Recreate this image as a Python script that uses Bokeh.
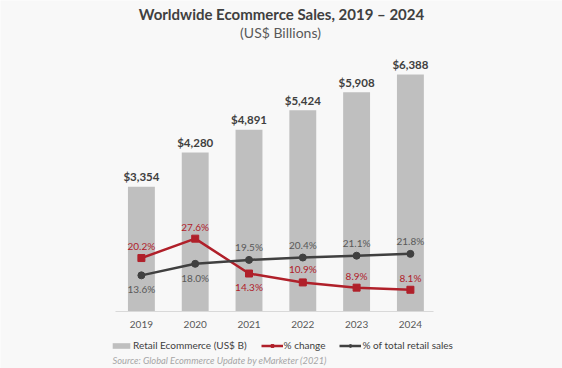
from bokeh.plotting import figure
from bokeh.models import (Range1d, LinearAxis, FixedTicker, Legend, LegendItem,
                          Label, ColumnDataSource)
from bokeh.core.properties import value
from bokeh.embed import file_html
from bokeh.resources import INLINE

# ---- data ----
years = ["2019", "2020", "2021", "2022", "2023", "2024"]
sales = [3354, 4280, 4891, 5424, 5908, 6388]
pct_change = [20.2, 27.6, 14.3, 10.9, 8.9, 8.1]
pct_total = [13.6, 18.0, 19.5, 20.4, 21.1, 21.8]

title_text = "Worldwide Ecommerce Sales, 2019 \u2013 2024"
subtitle_text = "(US$ Billions)"
source_text = "Source: Global Ecommerce Update by eMarketer (2021)"

# ---- styles ----
BG = "#f8f8f8"
BAR = "#bfbfbf"
RED = "#b0202a"
DARK = "#404040"
GRAY_TXT = "#595959"
FONT = "Lato"

idx = list(range(len(years)))

# label placement (px, negative = above point)
red_off = [-12, -12, 13, -13, -12, -12]
blk_off = [14, 14, -13, -13, -13, -13]

src = ColumnDataSource(dict(
    x=idx, sales=sales,
    sales_lbl=["${:,}".format(v) for v in sales],
    chg=pct_change, chg_lbl=["{:.1f}%".format(v) for v in pct_change],
    tot=pct_total, tot_lbl=["{:.1f}%".format(v) for v in pct_total],
    red_off=red_off, blk_off=blk_off,
))

W, H = 562, 368
p = figure(width=W, height=H, output_backend="svg", toolbar_location=None,
           x_range=Range1d(-2.619, 7.827), y_range=Range1d(-1552, 8384),
           x_axis_location=None, y_axis_location=None, min_border=0,
           background_fill_color=BG, border_fill_color=BG,
           outline_line_color=None)
p.title.visible = False
for g in p.grid:
    g.visible = False
p.extra_y_ranges = {"pct": Range1d(-21.95, 118.5)}

bars = p.vbar(x="x", top="sales", width=0.5, source=src,
              fill_color=BAR, line_color=None)
p.text(x="x", y="sales", text="sales_lbl", source=src, y_offset=-10,
       text_align="center", text_baseline="middle",
       text_font=value(FONT), text_font_style="bold",
       text_font_size="11.5px", text_color=DARK)

red_line = p.line(x="x", y="chg", source=src, y_range_name="pct",
                  line_color=RED, line_width=2.5)
red_pts = p.scatter(x="x", y="chg", source=src, y_range_name="pct",
                    marker="square", size=7, fill_color=RED, line_color=RED)
blk_line = p.line(x="x", y="tot", source=src, y_range_name="pct",
                  line_color=DARK, line_width=2.5)
blk_pts = p.scatter(x="x", y="tot", source=src, y_range_name="pct",
                    marker="circle", size=7, fill_color=DARK, line_color=DARK)

p.text(x="x", y="chg", text="chg_lbl", source=src, y_range_name="pct",
       y_offset="red_off", text_align="center", text_baseline="middle",
       text_font=value(FONT), text_font_size="10px", text_color=RED)
p.text(x="x", y="tot", text="tot_lbl", source=src, y_range_name="pct",
       y_offset="blk_off", text_align="center", text_baseline="middle",
       text_font=value(FONT), text_font_size="10px", text_color=GRAY_TXT)

xaxis = LinearAxis(ticker=FixedTicker(ticks=idx),
                   major_label_overrides={i: y for i, y in zip(idx, years)},
                   fixed_location=0, bounds=(-0.48, 5.43),
                   axis_line_color="#d9d9d9", axis_line_width=1,
                   major_tick_line_color=None, minor_tick_line_color=None,
                   major_label_standoff=4,
                   major_label_text_font=FONT,
                   major_label_text_font_size="10px",
                   major_label_text_color=GRAY_TXT)
p.add_layout(xaxis, "below")

legend = Legend(items=[
    LegendItem(label="Retail Ecommerce (US$ B)", renderers=[bars]),
    LegendItem(label="% change", renderers=[red_line, red_pts]),
    LegendItem(label="% of total retail sales", renderers=[blk_line, blk_pts]),
], orientation="horizontal", location=(110, 16),
    background_fill_alpha=0, border_line_color=None,
    padding=0, margin=0, spacing=14, label_standoff=1,
    glyph_width=22, glyph_height=7, label_height=14,
    label_text_font=FONT, label_text_font_size="10px",
    label_text_color=DARK)
p.add_layout(legend)

p.add_layout(Label(x=281, y=H - 13, x_units="screen", y_units="screen",
                   text=title_text, text_align="center", text_baseline="middle",
                   text_font=FONT, text_font_style="bold",
                   text_font_size="15px", text_color=DARK))
p.add_layout(Label(x=280, y=H - 32, x_units="screen", y_units="screen",
                   text=subtitle_text, text_align="center",
                   text_baseline="middle", text_font=FONT,
                   text_font_size="14px", text_color=GRAY_TXT))
p.add_layout(Label(x=112, y=H - 360, x_units="screen", y_units="screen",
                   text=source_text, text_align="left",
                   text_baseline="middle", text_font=FONT,
                   text_font_style="italic", text_font_size="9.3px",
                   text_color="#a6a6a6"))

open("out.html", "w").write(file_html(p, INLINE))
